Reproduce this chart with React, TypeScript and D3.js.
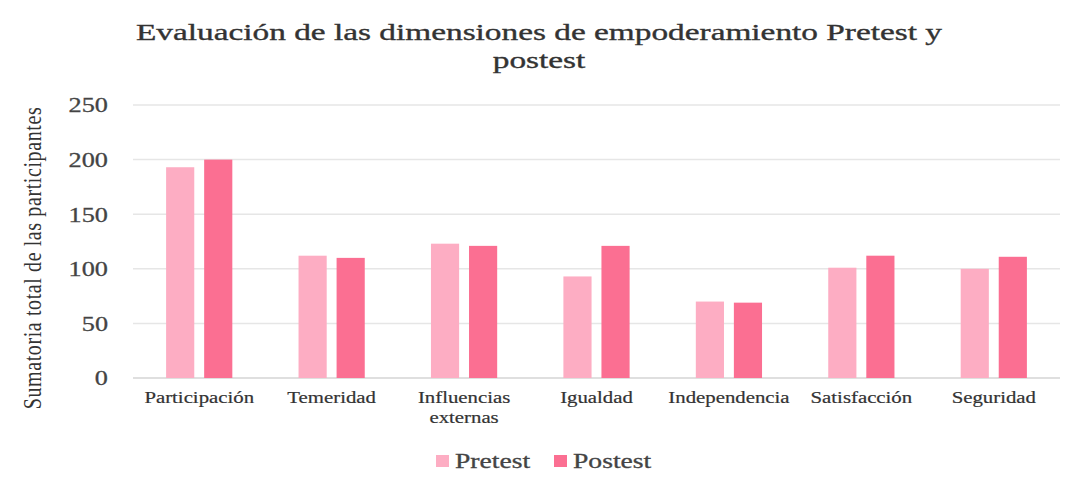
import React from 'react';
import * as d3 from 'd3';

const categories = [
    ['Participación'],
    ['Temeridad'],
    ['Influencias', 'externas'],
    ['Igualdad'],
    ['Independencia'],
    ['Satisfacción'],
    ['Seguridad'],
];
const pretest = [193, 112, 123, 93, 70, 101, 100];
const postest = [200, 110, 121, 121, 69, 112, 111];
const yTicks = [0, 50, 100, 150, 200, 250];
const seriesNames = ['Pretest', 'Postest'];
const colors = ['#fdadc3', '#fb6f92'];

// the source picture is stretched sideways, so the text is too
const stretch = 1.3;

export default function App() {
    const width = 1074;
    const height = 482;
    const margin = {top: 105, left: 133, bottom: 104, right: 14};
    const iwidth = width - margin.left - margin.right;
    const iheight = height - margin.top - margin.bottom;
    const font = {fontFamily: "'Liberation Serif'"};

    const y = d3.scaleLinear().domain([0, 250]).range([iheight, 0]);
    const x = d3
        .scaleBand()
        .domain(categories.map((c) => c.join(' ')))
        .range([0, iwidth]);
    const inner = d3
        .scaleBand()
        .domain(seriesNames)
        .range([x.bandwidth() * 0.25, x.bandwidth() * 0.75])
        .paddingInner(0.26);

    const series = [pretest, postest];

    return (
        <svg width={width} height={height} style={{position: 'absolute', left: 0, top: 0, background: '#fff'}}>
            <g transform="translate(539, 0) scale(1.45, 1)" fill="#333" stroke="#333" strokeWidth={0.35}>
                <text x={0} y={40} textAnchor="middle" style={font} fontSize={23}>
                    Evaluación de las dimensiones de empoderamiento Pretest y
                </text>
                <text x={0} y={68} textAnchor="middle" style={font} fontSize={23}>
                    postest
                </text>
            </g>
            <text
                transform={`translate(41, 258) rotate(-90) scale(1, ${stretch})`}
                textAnchor="middle"
                style={font}
                fontSize={20}
                fill="#333"
                letterSpacing={0.6}
            >
                Sumatoria total de las  participantes
            </text>
            <g transform={`translate(${margin.left},${margin.top})`}>
                {yTicks.map((t) => (
                    <g key={t}>
                        <line x1={0} x2={iwidth} y1={y(t)} y2={y(t)} stroke={t === 0 ? '#d4d4d4' : '#e6e6e6'} strokeWidth={1.5} />
                        <text
                            transform={`translate(-25, ${y(t)}) scale(1.25, 1)`}
                            dy="0.35em"
                            textAnchor="end"
                            style={font}
                            fontSize={21}
                            fill="#444"
                            stroke="#444"
                            strokeWidth={0.3}
                        >
                            {t}
                        </text>
                    </g>
                ))}
                {categories.map((c, i) => {
                    const key = c.join(' ');
                    const x0 = x(key) ?? 0;
                    return (
                        <g key={key}>
                            {series.map((s, j) => (
                                <rect
                                    key={j}
                                    x={x0 + (inner(seriesNames[j]) ?? 0)}
                                    y={y(s[i])}
                                    width={inner.bandwidth()}
                                    height={iheight - y(s[i])}
                                    fill={colors[j]}
                                />
                            ))}
                            {c.map((line, k) => (
                                <text
                                    key={k}
                                    transform={`translate(${x0 + x.bandwidth() / 2}, ${iheight + 25 + k * 20}) scale(${stretch}, 1)`}
                                    textAnchor="middle"
                                    style={font}
                                    fontSize={16}
                                    fill="#333"
                                    stroke="#333"
                                    strokeWidth={0.2}
                                >
                                    {line}
                                </text>
                            ))}
                        </g>
                    );
                })}
            </g>
            <g transform="translate(436, 461)">
                {seriesNames.map((n, j) => (
                    <g key={n} transform={`translate(${j * 118}, 0)`}>
                        <rect x={0} y={-6} width={13} height={12} fill={colors[j]} />
                        <text
                            transform={`translate(19, 0) scale(1.38, 1)`}
                            dy="0.35em"
                            style={font}
                            fontSize={20}
                            fill="#444"
                            stroke="#444"
                            strokeWidth={0.3}
                        >
                            {n}
                        </text>
                    </g>
                ))}
            </g>
        </svg>
    );
}
